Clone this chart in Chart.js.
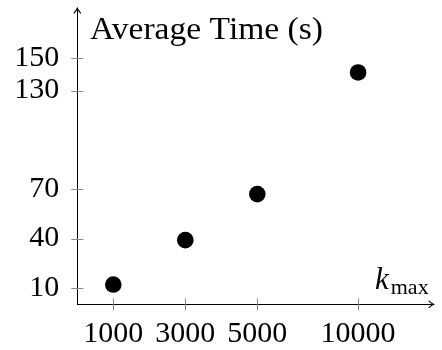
<!DOCTYPE html>
<html>
<head>
<meta charset="utf-8">
<script src="https://cdn.jsdelivr.net/npm/chart.js@4/dist/chart.umd.min.js"></script>
<style>
  html, body { margin: 0; padding: 0; background: #fff; }
  #wrap { width: 442px; height: 350px; }
</style>
</head>
<body>
<div id="wrap"><canvas id="c" width="442" height="350"></canvas></div>
<script>
// Data
const kmaxLabels = ['1000', '3000', '5000', '10000'];
const kmaxPositions = [1000, 3000, 5000, 7800];
const avgTime = [12, 39, 67, 141];
const yTickValues = [10, 40, 70, 130, 150];
const yTitle = 'Average Time (s)';
const xTitleMain = 'k';
const xTitleSub = 'max';

const FONT = '"Liberation Serif", "Times New Roman", serif';

function zeroPad(s) { s.paddingLeft = 0; s.paddingRight = 0; s.paddingTop = 0; s.paddingBottom = 0; }

const decor = {
  id: 'decor',
  afterDraw(chart) {
    const ctx = chart.ctx;
    const xs = chart.scales.x, ys = chart.scales.y;
    const ax = xs.getPixelForValue(0);
    const ay = ys.getPixelForValue(0);
    const area = chart.chartArea;
    ctx.save();
    // tick marks crossing the axes
    ctx.strokeStyle = '#8a8a8a';
    ctx.lineWidth = 1;
    kmaxPositions.forEach(v => {
      const px = Math.round(xs.getPixelForValue(v)) + 0.5;
      ctx.beginPath(); ctx.moveTo(px, ay - 6); ctx.lineTo(px, ay + 6); ctx.stroke();
    });
    yTickValues.forEach(v => {
      const py = Math.round(ys.getPixelForValue(v)) + 0.5;
      ctx.beginPath(); ctx.moveTo(ax - 6, py); ctx.lineTo(ax + 6, py); ctx.stroke();
    });
    // arrowheads
    ctx.strokeStyle = '#000';
    ctx.lineWidth = 1.1;
    const tx = area.right, ty = ay;
    ctx.beginPath();
    ctx.moveTo(tx - 5, ty - 3.5); ctx.quadraticCurveTo(tx - 2, ty - 0.8, tx, ty);
    ctx.quadraticCurveTo(tx - 2, ty + 0.8, tx - 5, ty + 3.5);
    ctx.stroke();
    const ux = ax, uy = area.top;
    ctx.beginPath();
    ctx.moveTo(ux - 3.5, uy + 5); ctx.quadraticCurveTo(ux - 0.8, uy + 2, ux, uy);
    ctx.quadraticCurveTo(ux + 0.8, uy + 2, ux + 3.5, uy + 5);
    ctx.stroke();
    // y title
    ctx.fillStyle = '#000';
    ctx.textBaseline = 'alphabetic';
    ctx.textAlign = 'left';
    ctx.font = '32px ' + FONT;
    const w = ctx.measureText(yTitle).width;
    ctx.save();
    ctx.translate(90, 38.5);
    ctx.scale(233 / w, 1);
    ctx.fillText(yTitle, 0, 0);
    ctx.restore();
    // x title k_max
    ctx.font = 'italic 31px ' + FONT;
    ctx.fillText(xTitleMain, 375, 288.5);
    const kw = ctx.measureText(xTitleMain).width;
    ctx.font = '22px ' + FONT;
    ctx.fillText(xTitleSub, 375 + kw + 2, 293.5);
    ctx.restore();
  }
};

new Chart(document.getElementById('c'), {
  type: 'scatter',
  data: {
    datasets: [{
      data: kmaxPositions.map((x, i) => ({ x: x, y: avgTime[i] })),
      backgroundColor: '#000',
      borderColor: '#000',
      borderWidth: 0,
      pointRadius: 8.3,
      pointHoverRadius: 8.3,
      showLine: false
    }]
  },
  options: {
    responsive: false,
    animation: false,
    events: [],
    layout: { padding: { top: 4, right: 1.3, left: 0, bottom: 0 } },
    plugins: { legend: { display: false }, tooltip: { enabled: false }, title: { display: false } },
    scales: {
      x: {
        type: 'linear',
        min: 0,
        max: 9900,
        afterBuildTicks: s => { s.ticks = kmaxPositions.map(v => ({ value: v })); },
        afterFit: s => { s.height = 45.7; zeroPad(s); },
        grid: { display: false, drawTicks: false },
        border: { display: true, color: '#000', width: 1 },
        ticks: {
          autoSkip: false,
          maxRotation: 0,
          padding: 12,
          color: '#000',
          font: { family: FONT, size: 30 },
          callback: v => kmaxLabels[kmaxPositions.indexOf(v)] || ''
        }
      },
      y: {
        type: 'linear',
        min: 0,
        max: 180,
        afterBuildTicks: s => { s.ticks = yTickValues.map(v => ({ value: v })); },
        afterFit: s => { s.width = 77.3; zeroPad(s); },
        grid: { display: false, drawTicks: false },
        border: { display: true, color: '#000', width: 1 },
        ticks: {
          autoSkip: false,
          padding: 18,
          color: '#000',
          font: { family: FONT, size: 30 },
          callback: v => String(v)
        }
      }
    }
  },
  plugins: [decor]
});
</script>
</body>
</html>
